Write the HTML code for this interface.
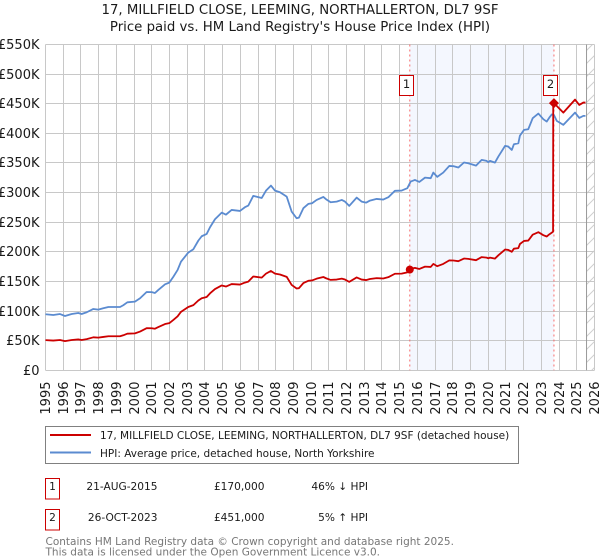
<!DOCTYPE html>
<html lang="en">
<head>
<meta charset="utf-8">
<title>17, Millfield Close price chart</title>
<style>
html,body{margin:0;padding:0;background:#fff;}
svg{display:block;font-family:"DejaVu Sans","Liberation Sans",sans-serif;}
</style>
</head>
<body>
<svg id="chart" width="600" height="560" viewBox="0 0 600 560" xmlns="http://www.w3.org/2000/svg">
  <defs>
    <pattern id="hatch" patternUnits="userSpaceOnUse" width="13" height="13">
      <line x1="0" y1="13" x2="13" y2="0" stroke="#cfcfcf" stroke-width="1"/>
    </pattern>
  </defs>
  <rect x="0" y="0" width="600" height="560" fill="#ffffff"/>
  <text x="300" y="14" font-size="13.3" text-anchor="middle" fill="#1a1a1a">17, MILLFIELD CLOSE, LEEMING, NORTHALLERTON, DL7 9SF</text>
  <text x="300" y="31" font-size="13.3" text-anchor="middle" fill="#1a1a1a">Price paid vs. HM Land Registry's House Price Index (HPI)</text>
  <g id="plot"></g>

  <g>
    <rect x="45.5" y="426.5" width="473" height="37" fill="#ffffff" stroke="#808080" stroke-width="1"/>
    <line x1="50" y1="435" x2="91" y2="435" stroke="#cc0000" stroke-width="2"/>
    <text x="100" y="439" font-size="10.5" fill="#1a1a1a">17, MILLFIELD CLOSE, LEEMING, NORTHALLERTON, DL7 9SF (detached house)</text>
    <line x1="50" y1="452.5" x2="91" y2="452.5" stroke="#5b8bd0" stroke-width="2"/>
    <text x="100" y="457" font-size="10.5" fill="#1a1a1a">HPI: Average price, detached house, North Yorkshire</text>
  </g>

  <g font-size="10.6" fill="#1a1a1a">
    <rect x="45.5" y="478.5" width="14" height="20.5" fill="#ffffff" stroke="#cc0000" stroke-width="1"/>
    <text x="52.5" y="490" text-anchor="middle">1</text>
    <text x="157.5" y="490" text-anchor="end">21-AUG-2015</text>
    <text x="264.5" y="490" text-anchor="end">£170,000</text>
    <text x="368" y="490" text-anchor="end">46% ↓ HPI</text>
    <rect x="45.5" y="509.5" width="14" height="20.5" fill="#ffffff" stroke="#cc0000" stroke-width="1"/>
    <text x="52.5" y="521" text-anchor="middle">2</text>
    <text x="157.5" y="521" text-anchor="end">26-OCT-2023</text>
    <text x="264.5" y="521" text-anchor="end">£451,000</text>
    <text x="368" y="521" text-anchor="end">5% ↑ HPI</text>
  </g>

  <text x="45.5" y="545" font-size="10.5" fill="#777777">Contains HM Land Registry data © Crown copyright and database right 2025.</text>
  <text x="45.5" y="555.5" font-size="10.5" fill="#777777">This data is licensed under the Open Government Licence v3.0.</text>

<script>
var yearTicks = [1995,1996,1997,1998,1999,2000,2001,2002,2003,2004,2005,2006,2007,2008,2009,2010,2011,2012,2013,2014,2015,2016,2017,2018,2019,2020,2021,2022,2023,2024,2025,2026];
var priceTicks = [0,50,100,150,200,250,300,350,400,450,500,550];
var priceTickLabels = ["£0","£50K","£100K","£150K","£200K","£250K","£300K","£350K","£400K","£450K","£500K","£550K"];

var hpiDates = [1995.00,1995.44,1995.82,1996.10,1996.48,1996.85,1997.04,1997.33,1997.70,1997.98,1998.26,1998.55,1999.21,1999.39,1999.62,2000.05,2000.34,2000.71,2001.00,2001.18,2001.37,2001.75,2001.99,2002.22,2002.46,2002.65,2003.06,2003.35,2003.63,2003.82,2004.10,2004.29,2004.57,2004.95,2005.19,2005.51,2005.98,2006.26,2006.45,2006.73,2007.21,2007.45,2007.73,2007.96,2008.24,2008.62,2008.90,2009.18,2009.31,2009.56,2009.84,2010.05,2010.31,2010.69,2010.84,2011.10,2011.44,2011.73,2011.91,2012.15,2012.57,2012.85,2013.10,2013.32,2013.70,2014.07,2014.36,2014.73,2015.11,2015.43,2015.62,2015.86,2016.11,2016.43,2016.75,2016.90,2017.12,2017.46,2017.80,2018.03,2018.31,2018.63,2018.87,2019.31,2019.63,2019.91,2020.00,2020.10,2020.38,2020.57,2020.95,2021.13,2021.33,2021.45,2021.70,2021.79,2022.02,2022.26,2022.51,2022.83,2023.11,2023.30,2023.45,2023.59,2023.71,2023.87,2024.24,2024.90,2025.14,2025.37,2025.49];
var hpiValues = [94.6,93.4,95,91.7,95,96.8,95,98,103.5,102.4,104.7,106.9,106.9,109.8,114.8,115.9,121.6,132.2,132,130.5,135.6,145.2,148,158,169.4,183.4,198.7,204.4,218.9,226.3,230.2,241.5,255,266.2,262.8,270.7,269,275.3,278,294.4,290.9,303.3,311.8,303.3,300.6,293.2,267.9,256.7,257.7,273.6,280.9,282,287.6,292.7,288.8,283.7,284.8,287.6,284.8,277.5,291.5,284.8,283,286.5,289.3,288.2,292.2,303,303.4,307.4,318.6,321.4,318,325.3,324.3,333.8,326.5,333.8,345,344.6,342.3,350.8,349.6,345.6,355.2,353.5,351.3,353.5,350.6,360.8,378.9,377.7,372,381.6,383.4,396.2,405.9,407,425.6,433.4,423.9,419.9,426.6,432,431,421,414.3,435,426,429.5,429.5];

var paidDates = [1995.00,1995.44,1995.82,1996.10,1996.48,1996.85,1997.04,1997.33,1997.70,1997.98,1998.26,1998.55,1999.21,1999.39,1999.62,2000.05,2000.34,2000.71,2001.00,2001.18,2001.37,2001.75,2001.99,2002.22,2002.46,2002.65,2003.06,2003.35,2003.63,2003.82,2004.10,2004.29,2004.57,2004.95,2005.19,2005.51,2005.98,2006.26,2006.45,2006.73,2007.21,2007.45,2007.73,2007.96,2008.24,2008.62,2008.90,2009.18,2009.31,2009.56,2009.84,2010.05,2010.31,2010.69,2010.84,2011.10,2011.44,2011.73,2011.91,2012.15,2012.57,2012.85,2013.10,2013.32,2013.70,2014.07,2014.36,2014.73,2015.11,2015.43,2015.62,2015.86,2016.11,2016.43,2016.75,2016.90,2017.12,2017.46,2017.80,2018.03,2018.31,2018.63,2018.87,2019.31,2019.63,2019.91,2020.00,2020.10,2020.38,2020.57,2020.95,2021.13,2021.33,2021.45,2021.70,2021.79,2022.02,2022.26,2022.51,2022.83,2023.11,2023.30,2023.45,2023.59,2023.66,2023.67,2023.71,2024.24,2024.90,2025.14,2025.37,2025.49];
var paidValues = [50.9,50.2,51.1,49.3,51.1,52.1,51.1,52.7,55.7,55.1,56.3,57.5,57.5,59.1,61.8,62.4,65.4,71.1,71,70.2,73,78.1,79.6,85,91.1,98.7,106.9,110,117.8,121.7,123.8,129.9,137.2,143.2,141.4,145.6,144.7,148.1,149.6,158.4,156.5,163.2,167.7,163.2,161.7,157.7,144.1,138.1,138.6,147.2,151.1,151.7,154.7,157.5,155.4,152.6,153.2,154.7,153.2,149.3,156.8,153.2,152.3,154.1,155.6,155,157.2,163,163.2,165.4,171.4,172.9,171.1,175,174.5,179.6,175.7,179.6,185.6,185.4,184.2,188.7,188.1,185.9,191.1,190.2,189,190.2,188.6,194.1,203.9,203.2,200.1,205.3,206.3,213.2,218.4,219,229,233.2,228.1,225.9,229.5,232.4,234,451,451,435,457,448,452,452];

var saleDates = [2015.57,2023.71];
var saleValues = [170,451];
var saleLabels = ["1","2"];
var dataEndDate = 2025.55;

var NS = "http://www.w3.org/2000/svg";
var plot = document.getElementById("plot");
var LEFT = 45.5, RIGHT = 594.5, TOP = 44.5, BOTTOM = 370.3;

function xScale(year) { return LEFT + (year - 1995) * (RIGHT - LEFT) / 31; }
function yScale(value) { return BOTTOM - value * (BOTTOM - TOP) / 550; }
function snap(p) { return Math.floor(p) + 0.5; }
function add(tag, attrs) {
  var el = document.createElementNS(NS, tag);
  for (var k in attrs) { el.setAttribute(k, attrs[k]); }
  plot.appendChild(el);
  return el;
}
function pathFrom(dates, values) {
  return dates.map(function (d, i) {
    return (i ? "L" : "M") + xScale(d).toFixed(2) + " " + yScale(values[i]).toFixed(2);
  }).join(" ");
}

var shade = add("rect", {x: xScale(saleDates[0]), y: TOP, width: xScale(saleDates[1]) - xScale(saleDates[0]), height: BOTTOM - TOP, fill: "#f4f7fe"});



var hatch = add("rect", {x: xScale(dataEndDate), y: TOP, width: RIGHT - xScale(dataEndDate), height: BOTTOM - TOP, fill: "url(#hatch)"});



yearTicks.forEach(function (year) {
  var gx = snap(xScale(year));
  var grid = add("line", {x1: gx, x2: gx, y1: TOP, y2: BOTTOM, stroke: "#c8c8c8", "stroke-width": 1});
  
  
  var label = add("text", {transform: "translate(" + (gx + 4.5) + " 381.5) rotate(-90)", "font-size": 13, "text-anchor": "end", fill: "#1a1a1a"});
  
  
  label.textContent = year;
});

priceTicks.forEach(function (value, i) {
  var gy = snap(yScale(value));
  var grid = add("line", {x1: LEFT, x2: RIGHT, y1: gy, y2: gy, stroke: "#c8c8c8", "stroke-width": 1});
  
  
  var label = add("text", {x: 39.5, y: gy + 4.5, "font-size": 13, "text-anchor": "end", fill: "#1a1a1a"});
  
  
  label.textContent = priceTickLabels[i];
});

var endLine = add("line", {x1: xScale(dataEndDate), x2: xScale(dataEndDate), y1: TOP, y2: BOTTOM, stroke: "#999999", "stroke-width": 1});



saleDates.forEach(function (d) {
  var v = add("line", {x1: xScale(d), x2: xScale(d), y1: TOP, y2: BOTTOM, stroke: "#f76b6b", "stroke-width": 1, "stroke-dasharray": "2 3"});
  
  
});

var hpiLine = add("path", {d: pathFrom(hpiDates, hpiValues), fill: "none", stroke: "#5b8bd0", "stroke-width": 1.8, "stroke-linejoin": "round"});



var paidLine = add("path", {d: pathFrom(paidDates, paidValues), fill: "none", stroke: "#cc0000", "stroke-width": 1.8, "stroke-linejoin": "round"});



var dot = add("circle", {cx: xScale(saleDates[0]), cy: yScale(saleValues[0]), r: 4, fill: "#cc0000"});



var dx = xScale(saleDates[1]), dy = yScale(saleValues[1]);
var diamond = add("path", {d: "M" + dx + " " + (dy - 5) + " L" + (dx + 5) + " " + dy + " L" + dx + " " + (dy + 5) + " L" + (dx - 5) + " " + dy + " Z", fill: "#cc0000"});



saleDates.forEach(function (d, i) {
  var bx = Math.floor(xScale(d) - 10) + 0.5;
  var box = add("rect", {x: bx, y: 75.5, width: 14, height: 20, fill: "#ffffff", stroke: "#cc0000", "stroke-width": 1});
  
  
  var t = add("text", {x: bx + 7, y: 88, "font-size": 11.5, "text-anchor": "middle", fill: "#1a1a1a"});
  
  
  t.textContent = saleLabels[i];
});
</script>
</svg>
</body>
</html>
